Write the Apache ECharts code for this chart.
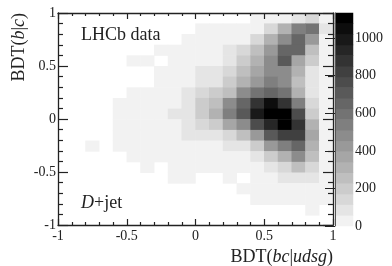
<!DOCTYPE html>
<html><head><meta charset="utf-8">
<style>html,body{margin:0;padding:0;background:#fff}#c{width:392px;height:266px}</style>
<script src="https://cdn.jsdelivr.net/npm/echarts@6/dist/echarts.min.js"></script>
</head><body><div id="c"></div>
<script>
// Bin centres along BDT(bc|udsg)
const xBins = [-0.95,-0.85,-0.75,-0.65,-0.55,-0.45,-0.35,-0.25,-0.15,-0.05,0.05,0.15,0.25,0.35,0.45,0.55,0.65,0.75,0.85,0.95];
// Bin centres along BDT(b|c), top row first
const yBins = [0.95,0.85,0.75,0.65,0.55,0.45,0.35,0.25,0.15,0.05,-0.05,-0.15,-0.25,-0.35,-0.45,-0.55,-0.65,-0.75,-0.85,-0.95];
// Counts per cell, one row per yBins entry
const counts = [
[0,0,0,0,0,0,0,0,0,0,0,0,0,0,30,30,30,85,140,30],
[0,0,0,0,0,0,0,0,0,0,30,30,30,30,30,140,310,540,595,85],
[0,0,0,0,0,0,0,0,0,30,30,30,30,30,140,310,480,650,425,30],
[0,0,0,0,0,0,0,30,30,30,30,30,85,140,255,425,650,650,255,30],
[0,0,0,0,0,30,30,0,30,30,30,30,85,200,310,480,710,370,200,30],
[0,0,0,0,0,0,0,30,30,30,85,85,140,255,370,480,480,310,85,30],
[0,0,0,0,0,0,0,30,30,30,85,85,200,310,425,540,480,255,85,30],
[0,0,0,0,0,30,30,30,30,85,140,200,255,480,595,650,595,310,85,30],
[0,0,0,0,30,30,30,30,30,85,200,255,480,650,880,1050,880,540,140,30],
[0,0,0,0,30,30,30,30,85,85,200,310,540,710,990,1105,1105,765,200,30],
[0,0,0,0,30,30,30,30,30,85,140,200,370,480,765,935,1105,880,310,30],
[0,0,0,0,30,30,30,30,30,85,85,85,140,255,425,710,820,820,370,30],
[0,0,30,0,30,30,30,30,30,30,30,30,85,85,200,425,540,650,310,30],
[0,0,0,0,0,30,30,30,30,30,30,30,30,30,85,200,310,480,255,30],
[0,0,0,0,0,0,30,0,30,30,30,30,30,30,30,85,140,255,140,30],
[0,0,0,0,0,0,0,0,30,30,0,0,30,0,30,30,85,85,85,30],
[0,0,0,0,0,0,0,0,0,0,0,0,0,30,30,30,30,30,30,30],
[0,0,0,0,0,0,0,0,0,0,0,0,0,0,30,30,30,30,30,30],
[0,0,0,0,0,0,0,0,0,0,0,0,0,0,0,0,0,0,30,0],
[0,0,0,0,0,0,0,0,0,0,0,0,0,0,0,0,0,0,0,0]
];
// Colour scale
const zMax = 1134;
const bandWidth = 56.7;
const bandStarts = [0,56.7,113.4,170.1,226.8,283.5,340.2,396.9,453.6,510.3,567,623.7,680.4,737.1,793.8,850.5,907.2,963.9,1020.6,1077.3];
const bandGrays = [242,229,216,204,191,178,166,153,140,127,115,102,89,76,64,51,38,25,13,0];

const serif = '"Liberation Serif","Times New Roman",serif';
const frame = {left:58, top:13, width:275, height:213};
const bar = {left:335, top:13, width:18, height:213};
const ink = '#222';

const cells = [];
counts.forEach((row,j)=>row.forEach((v,i)=>{ if(v>0) cells.push([i,yBins.length-1-j,v]); }));
const barCells = bandStarts.map((s,k)=>[0,k,s+bandWidth/2]);
const pieces = bandStarts.map((s,k)=>({gte:s, lt:s+bandWidth, color:`rgb(${bandGrays[k]},${bandGrays[k]},${bandGrays[k]})`}));

const lineS = {show:true,onZero:false,lineStyle:{color:ink,width:1.3}};
const hidden = (idx,data)=>({type:'category',gridIndex:idx,data,show:false,boundaryGap:true});
const valAxis = (pos,len,minorLen,labels,extra)=>Object.assign({
  type:'value',gridIndex:1,min:-1,max:1,interval:0.5,position:pos,z:10,
  axisLine:lineS,
  axisTick:{show:true,inside:true,length:len,lineStyle:{color:ink,width:1.2}},
  minorTick:{show:true,splitNumber:5,length:minorLen,lineStyle:{color:ink,width:1.2}},
  splitLine:{show:false},minorSplitLine:{show:false},
  axisLabel:{show:labels,color:'#222',fontFamily:serif,fontSize:14,
             formatter:v=>String(v),showMinLabel:true,showMaxLabel:true}
},extra||{});

const chart = echarts.init(document.getElementById('c'),null,{renderer:'canvas'});
chart.setOption({
  animation:false,
  backgroundColor:'#fff',
  grid:[
    Object.assign({},frame),
    Object.assign({},frame),
    Object.assign({},bar),
    Object.assign({},bar)
  ],
  visualMap:{type:'piecewise',show:false,seriesIndex:[0,1],dimension:2,pieces},
  xAxis:[
    hidden(0,xBins),
    valAxis('bottom',6,3,true,{axisLabel:{show:true,margin:4,color:'#222',fontFamily:serif,fontSize:14,formatter:v=>String(v),hideOverlap:false},
      name:'BDT({i|bc}|{i|udsg})',nameLocation:'end',nameGap:0,
      nameTextStyle:{fontFamily:serif,fontSize:18,color:'#222',align:'right',verticalAlign:'top',padding:[23,0,0,0],
        rich:{i:{fontStyle:'italic',fontFamily:serif,fontSize:18,color:'#222'}}}}),
    valAxis('top',6,3,false),
    hidden(2,['z']),
    {type:'value',gridIndex:3,min:0,max:1,show:false}
  ],
  yAxis:[
    hidden(0,yBins.slice().reverse()),
    valAxis('left',10,5,true,{axisLabel:{show:true,margin:2,color:'#222',fontFamily:serif,fontSize:14,formatter:v=>String(v)},
      name:'BDT({i|b}|{i|c})',nameLocation:'end',nameRotate:90,nameGap:0,
      nameTextStyle:{fontFamily:serif,fontSize:18,color:'#222',align:'right',verticalAlign:'bottom',padding:[0,0,30,0],
        rich:{i:{fontStyle:'italic',fontFamily:serif,fontSize:18,color:'#222'}}}}),
    valAxis('right',10,5,false),
    hidden(2,bandStarts.map(String)),
    {type:'value',gridIndex:3,min:0,max:zMax,interval:200,position:'right',z:10,
     axisLine:{show:true,lineStyle:{color:'#555',width:1}},
     axisTick:{show:true,inside:true,length:10,lineStyle:{color:ink,width:1}},
     splitLine:{show:false},
     axisLabel:{show:true,margin:2,color:'#222',fontFamily:serif,fontSize:14,showMaxLabel:false,formatter:v=>String(v)}}
  ],
  series:[
    {type:'heatmap',xAxisIndex:0,yAxisIndex:0,data:cells,progressive:0,emphasis:{disabled:true}},
    {type:'heatmap',xAxisIndex:3,yAxisIndex:3,data:barCells,progressive:0,emphasis:{disabled:true}}
  ],
  graphic:[
    {type:'text',left:81,top:26,z:20,style:{text:'LHCb data',fontFamily:serif,fontSize:18,fill:'#222'}},
    {type:'text',left:81,top:194,z:20,style:{text:'{i|D}+jet',fontFamily:serif,fontSize:18,fill:'#222',
      rich:{i:{fontStyle:'italic',fontFamily:serif,fontSize:18,fill:'#222'}}}}
  ]
});
</script></body></html>
